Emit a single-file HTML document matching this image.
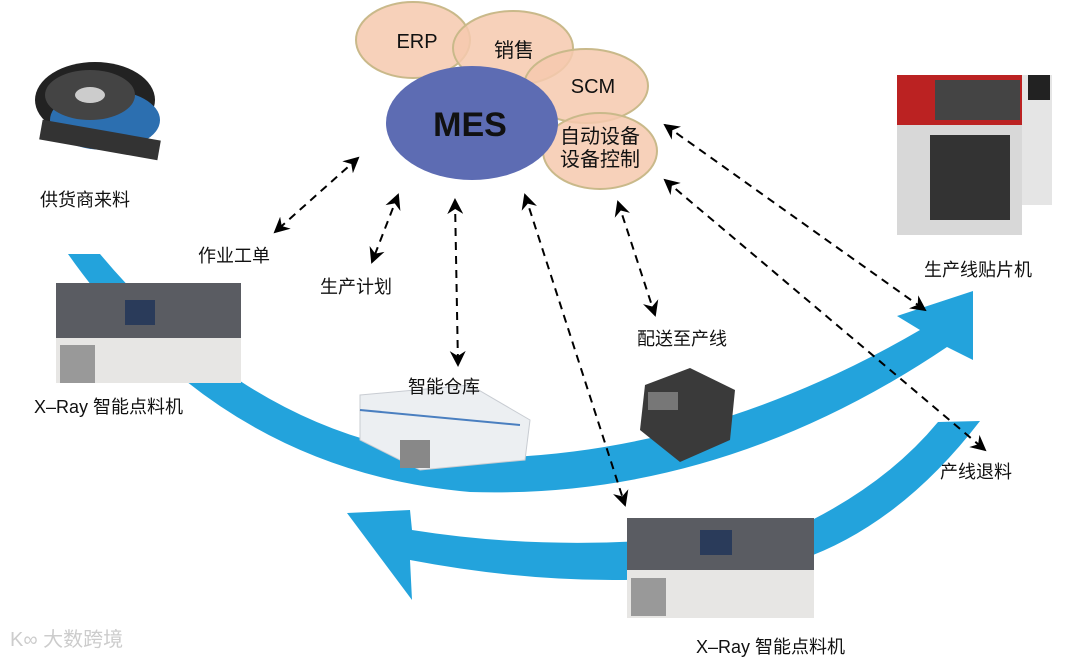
<!DOCTYPE html>
<html><head><meta charset="utf-8"><style>
body{margin:0;background:#fff;width:1080px;height:659px;overflow:hidden}
svg text{font-family:"Liberation Sans","Noto Sans CJK SC",sans-serif;fill:#111}
</style></head><body>
<svg width="1080" height="659" viewBox="0 0 1080 659" xmlns="http://www.w3.org/2000/svg">
<defs>
<marker id="ah" markerWidth="16" markerHeight="16" refX="14" refY="8" orient="auto-start-reverse" markerUnits="userSpaceOnUse">
<path d="M0,0 L16,8 L0,16 L5,8 Z" fill="#000"/></marker>
</defs>
<path d="M68,254 L100,254 Q260,445 470,458 Q700,458 920,330 L897,316 L973,291 L973,360 L947,347 Q720,500 470,492 Q220,470 68,254 Z" fill="#23a3dc"/>
<path d="M812,520 Q890,480 938,422 L980,421 Q900,525 800,560 Q620,600 410,560 L412,600 L347,513 L410,510 L412,530 Q600,560 812,520 Z" fill="#23a3dc"/>
<g fill="#f6c9ae" fill-opacity="0.85" stroke="#c9b98a" stroke-width="2">
<ellipse cx="413" cy="40" rx="57" ry="38"/>
<ellipse cx="513" cy="48" rx="60" ry="37"/>
<ellipse cx="586" cy="86" rx="62" ry="37"/>
<ellipse cx="600" cy="151" rx="57" ry="38"/>
</g>
<ellipse cx="472" cy="123" rx="86" ry="57" fill="#5d6cb3"/>
<text x="417" y="48" font-size="20" text-anchor="middle">ERP</text>
<text x="514" y="57" font-size="20" text-anchor="middle">销售</text>
<text x="593" y="93" font-size="20" text-anchor="middle">SCM</text>
<text x="600" y="143" font-size="20" text-anchor="middle">自动设备</text>
<text x="600" y="166" font-size="20" text-anchor="middle">设备控制</text>
<text x="470" y="136" font-size="34" font-weight="bold" text-anchor="middle">MES</text>
<g stroke="#000" stroke-width="2" stroke-dasharray="8,6" fill="none" marker-start="url(#ah)" marker-end="url(#ah)">
<line x1="358" y1="158" x2="275" y2="232"/>
<line x1="398" y1="195" x2="372" y2="262"/>
<line x1="455" y1="200" x2="458" y2="365"/>
<line x1="525" y1="195" x2="625" y2="505"/>
<line x1="618" y1="202" x2="655" y2="315"/>
<line x1="665" y1="125" x2="925" y2="310"/>
<line x1="665" y1="180" x2="985" y2="450"/>
</g>
<g>
<ellipse cx="95" cy="100" rx="60" ry="38" fill="#222"/>
<ellipse cx="105" cy="120" rx="55" ry="30" fill="#2c6fb0"/>
<ellipse cx="90" cy="95" rx="45" ry="25" fill="#444"/>
<ellipse cx="90" cy="95" rx="15" ry="8" fill="#ccc"/>
<rect x="40" y="130" width="120" height="20" fill="#333" transform="rotate(10 100 140)"/>
</g>
<g>
<rect x="56" y="283" width="185" height="55" fill="#5a5c62"/>
<rect x="56" y="338" width="185" height="45" fill="#e7e6e4"/>
<rect x="125" y="300" width="30" height="25" fill="#2a3b5a"/>
<rect x="60" y="345" width="35" height="38" fill="#999"/>
</g>
<g>
<rect x="627" y="518" width="187" height="52" fill="#5a5c62"/>
<rect x="627" y="570" width="187" height="48" fill="#e7e6e4"/>
<rect x="700" y="530" width="32" height="25" fill="#2a3b5a"/>
<rect x="631" y="578" width="35" height="38" fill="#999"/>
</g>
<g>
<rect x="897" y="75" width="125" height="160" fill="#d8d8d8"/>
<rect x="897" y="75" width="125" height="50" fill="#b22"/>
<rect x="935" y="80" width="85" height="40" fill="#444"/>
<rect x="930" y="135" width="80" height="85" fill="#333"/>
<rect x="1022" y="75" width="30" height="130" fill="#e5e5e5"/>
<rect x="1028" y="75" width="22" height="25" fill="#222"/>
</g>
<g>
<polygon points="360,395 470,385 530,420 525,460 420,470 360,440" fill="#eceff2" stroke="#c8ccd2"/>
<rect x="400" y="440" width="30" height="28" fill="#888"/>
<line x1="360" y1="410" x2="520" y2="425" stroke="#4a7fc0" stroke-width="2"/>
</g>
<polygon points="645,385 690,368 735,390 730,440 680,462 640,430" fill="#3a3a3a"/>
<rect x="648" y="392" width="30" height="18" fill="#777"/>
<g font-size="18">
<text x="40" y="206">供货商来料</text>
<text x="198" y="262">作业工单</text>
<text x="320" y="293">生产计划</text>
<text x="408" y="393">智能仓库</text>
<text x="637" y="345">配送至产线</text>
<text x="924" y="276">生产线贴片机</text>
<text x="940" y="478">产线退料</text>
<text x="34" y="413">X–Ray 智能点料机</text>
<text x="696" y="653">X–Ray 智能点料机</text>
</g>
<text x="10" y="646" font-size="20" style="fill:#ccc">K∞ 大数跨境</text>
</svg>
</body></html>
